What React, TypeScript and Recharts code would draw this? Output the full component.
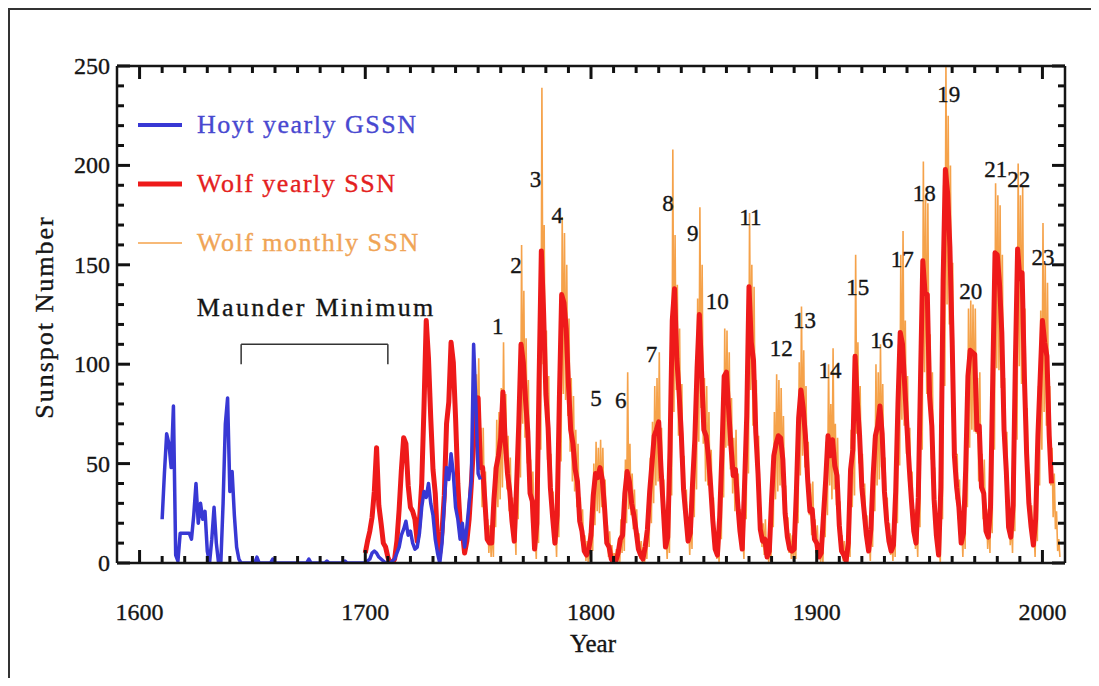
import { LineChart, Line, XAxis, YAxis, ReferenceLine, ReferenceDot, Legend } from 'recharts'

// Hoyt & Schatten group sunspot number, yearly, 1610 onwards
const hoytStart = 1610
const hoytYearly = [
  22, 45, 65, 60, 48, 79, 4, 1, 15, 15,
  15, 15, 15, 12, 24, 40, 20, 30, 22, 26,
  6, 0, 12, 28, 10, 0, 0, 30, 70, 83,
  36, 46, 24, 8, 2, 0, 0, 0, 0, 0,
  0, 0, 3, 0, 0, 0, 0, 0, 0, 2,
  0, 0, 0, 0, 0, 0, 0, 0, 0, 0,
  0, 0, 0, 0, 0, 2, 0, 0, 0, 0,
  0, 0, 0, 1, 0, 0, 0, 0, 0, 0,
  0, 1, 0, 0, 0, 0, 0, 0, 0, 0,
  0, 1, 2, 5, 6, 5, 3, 2, 1, 0,
  0, 0, 1, 2, 5, 8, 14, 17, 21, 14,
  16, 10, 7, 8, 15, 28, 36, 33, 40, 30,
  24, 12, 5, 0, 10, 30, 48, 42, 55, 45,
  28, 22, 12, 20, 8, 18, 30, 42, 110, 80,
  45, 42,
]

// Wolf sunspot number, yearly, 1700 onwards
const wolfStart = 1700
const wolfYearly = [
  5, 11, 16, 23, 36, 58, 29, 20, 10, 8,
  3, 0, 0, 2, 11, 27, 47, 63, 60, 39,
  28, 26, 22, 11, 21, 40, 78, 122, 103, 73,
  47, 35, 11, 5, 16, 34, 70, 81, 111, 101,
  73, 40, 20, 16, 5, 11, 22, 40, 60, 81,
  83, 48, 48, 31, 12, 10, 10, 32, 48, 54,
  63, 86, 61, 45, 36, 21, 11, 38, 70, 110,
  101, 82, 66, 35, 31, 7, 20, 92, 157, 126,
  85, 68, 38, 23, 10, 24, 83, 135, 131, 118,
  90, 67, 60, 47, 41, 21, 16, 6, 4, 7,
  14, 34, 45, 43, 48, 42, 28, 10, 8, 2,
  0, 1, 5, 12, 14, 35, 46, 41, 30, 24,
  16, 7, 4, 2, 8, 17, 36, 50, 64, 67,
  71, 48, 28, 8, 13, 57, 122, 138, 103, 86,
  65, 37, 24, 11, 15, 40, 62, 98, 125, 96,
  67, 64, 54, 39, 21, 7, 4, 23, 55, 94,
  96, 77, 59, 44, 47, 30, 16, 7, 38, 74,
  139, 111, 102, 66, 45, 17, 11, 12, 3, 6,
  32, 54, 60, 64, 63, 52, 25, 13, 7, 6,
  7, 36, 73, 87, 78, 64, 42, 26, 27, 12,
  10, 3, 5, 24, 42, 64, 54, 62, 49, 44,
  19, 6, 4, 1, 10, 47, 57, 104, 81, 64,
  38, 26, 14, 6, 17, 44, 64, 69, 79, 65,
  36, 21, 11, 6, 9, 36, 80, 116, 110, 89,
  68, 48, 31, 16, 10, 33, 93, 152, 136, 135,
  84, 69, 32, 14, 4, 38, 142, 198, 186, 159,
  112, 54, 38, 28, 10, 15, 47, 94, 107, 106,
  105, 67, 69, 38, 35, 16, 13, 28, 93, 156,
  155, 140, 116, 67, 46, 18, 13, 29, 100, 158,
  143, 146, 94, 55, 30, 18, 9, 22, 64, 93,
  122, 111, 104, 64, 40,
]

// Wolf monthly SSN, highest and lowest month of each year, 1749 onwards
const monthlyStart = 1749
const monthlyHigh = [
  95,
  103, 68, 68, 46, 22, 19, 19, 48, 72, 76,
  88, 111, 85, 64, 53, 33, 20, 55, 97, 160,
  137, 113, 92, 52, 46, 15, 32, 126, 239, 170,
  117, 94, 55, 36, 19, 37, 114, 174, 166, 150,
  123, 93, 84, 67, 60, 33, 27, 14, 11, 15,
  24, 50, 61, 58, 62, 58, 42, 19, 16, 9,
  5, 7, 12, 22, 24, 52, 96, 60, 45, 37,
  27, 15, 11, 8, 16, 28, 53, 71, 89, 93,
  106, 68, 42, 16, 23, 80, 208, 165, 140, 118,
  90, 54, 37, 20, 26, 58, 87, 133, 179, 150,
  93, 89, 76, 57, 33, 15, 11, 36, 78, 118,
  117, 106, 83, 63, 67, 45, 27, 15, 55, 102,
  176, 150, 139, 92, 64, 28, 20, 22, 10, 14,
  48, 76, 95, 92, 88, 74, 39, 23, 15, 14,
  15, 53, 101, 129, 107, 89, 61, 40, 41, 22,
  19, 10, 12, 37, 61, 100, 80, 108, 70, 63,
  31, 14, 11, 7, 19, 67, 80, 155, 111, 89,
  55, 40, 24, 14, 28, 63, 100, 96, 110, 90,
  53, 33, 20, 14, 18, 53, 110, 155, 167, 122,
  94, 68, 46, 27, 19, 49, 127, 202, 183, 181,
  115, 96, 48, 24, 11, 55, 190, 251, 225, 200,
  151, 76, 55, 42, 19, 26, 67, 128, 132, 130,
  128, 93, 96, 55, 52, 27, 23, 42, 127, 191,
  185, 180, 155, 93, 66, 29, 23, 44, 136, 201,
  185, 190, 128, 78, 45, 29, 18, 35, 89, 127,
  171, 150, 141, 89, 58, 45, 26, 12,
]
const monthlyLow = [
  58,
  60, 28, 28, 17, 5, 3, 3, 18, 28, 32,
  38, 55, 37, 26, 20, 11, 4, 22, 43, 70,
  63, 50, 40, 20, 17, 2, 10, 57, 100, 79,
  52, 41, 22, 12, 3, 13, 51, 85, 82, 74,
  56, 41, 36, 28, 24, 11, 7, 1, 0, 2,
  6, 19, 26, 25, 28, 24, 15, 3, 2, 0,
  0, 0, 0, 5, 6, 20, 27, 24, 17, 13,
  7, 2, 0, 0, 2, 8, 20, 30, 39, 41,
  43, 28, 15, 2, 5, 34, 76, 87, 64, 53,
  39, 21, 13, 4, 7, 23, 37, 61, 78, 60,
  41, 39, 32, 22, 11, 2, 0, 12, 33, 58,
  59, 47, 35, 26, 28, 17, 7, 2, 22, 45,
  87, 69, 63, 40, 26, 8, 4, 5, 0, 1,
  18, 32, 36, 39, 38, 31, 13, 5, 2, 1,
  2, 20, 44, 54, 48, 39, 24, 14, 15, 5,
  3, 0, 0, 13, 24, 39, 32, 37, 29, 26,
  9, 1, 0, 0, 3, 28, 34, 65, 50, 39,
  22, 14, 6, 1, 8, 26, 39, 42, 48, 39,
  20, 11, 4, 1, 3, 20, 49, 72, 69, 55,
  41, 28, 17, 7, 3, 18, 57, 96, 85, 85,
  52, 42, 18, 6, 0, 22, 89, 130, 120, 100,
  70, 32, 22, 15, 3, 7, 28, 58, 67, 66,
  65, 41, 42, 22, 20, 7, 5, 15, 57, 98,
  97, 88, 72, 41, 27, 9, 5, 16, 62, 99,
  90, 92, 58, 33, 17, 9, 3, 11, 39, 57,
  76, 69, 64, 39, 23, 17, 6, 3,
]

// solar cycle numbers, placed near each maximum
const cycleLabels = [
  { n: '1', year: 1758.7, ssn: 119 },
  { n: '2', year: 1766.8, ssn: 150 },
  { n: '3', year: 1775.4, ssn: 193 },
  { n: '4', year: 1785.1, ssn: 175 },
  { n: '5', year: 1802.2, ssn: 83 },
  { n: '6', year: 1813.2, ssn: 82 },
  { n: '7', year: 1826.8, ssn: 105 },
  { n: '8', year: 1834.1, ssn: 181 },
  { n: '9', year: 1845.1, ssn: 166 },
  { n: '10', year: 1855.9, ssn: 132 },
  { n: '11', year: 1870.6, ssn: 174 },
  { n: '12', year: 1884.3, ssn: 108 },
  { n: '13', year: 1894.6, ssn: 122 },
  { n: '14', year: 1905.9, ssn: 97 },
  { n: '15', year: 1918.2, ssn: 139 },
  { n: '16', year: 1928.8, ssn: 112 },
  { n: '17', year: 1937.9, ssn: 153 },
  { n: '18', year: 1947.6, ssn: 186 },
  { n: '19', year: 1958.5, ssn: 236 },
  { n: '20', year: 1968.2, ssn: 137 },
  { n: '21', year: 1979.3, ssn: 198 },
  { n: '22', year: 1989.5, ssn: 193 },
  { n: '23', year: 2000.2, ssn: 154 },
]

const maunderStart = 1645
const maunderEnd = 1710

const X_MIN = 1590
const X_MAX = 2010
const Y_MIN = 0
const Y_MAX = 250
const yearTicks = Array.from({ length: 41 }, (_, i) => 1600 + i * 10)
const ssnTicks = Array.from({ length: 26 }, (_, i) => i * 10)

const hoytData = hoytYearly.map((v, i) => ({ year: hoytStart + i, v }))
const wolfData = wolfYearly.map((v, i) => ({ year: wolfStart + i, v }))
const monthlyData = monthlyHigh.flatMap((hi, i) => [
  { year: monthlyStart + i + 0.25, v: hi },
  { year: monthlyStart + i + 0.75, v: monthlyLow[i] },
])

const W = 1083
const H = 670
// plot box: x 109..1057, y 58..555 inside the chart
const margin = { top: 57, right: 25, bottom: 114, left: 108 }
const plotW = 948
const plotH = 497
const FONT = '"Liberation Serif", "Times New Roman", serif'
const INK = '#151515'
const BLUE = '#3838d4'
const RED = '#ee1a1a'
const ORANGE = '#f5a24a'

// inward tick lengths in px, turned into data units
const MAJOR = 13
const MINOR = 7
const yearsPerPx = (X_MAX - X_MIN) / plotW
const ssnPerPx = (Y_MAX - Y_MIN) / plotH

// one flat list of tick segments, drawn as ReferenceLines
type Seg = { id: string; a: { x: number; y: number }; b: { x: number; y: number } }
const tickSegments: Seg[] = []
yearTicks.forEach((t) => {
  const len = (t % 100 === 0 ? MAJOR : MINOR) * ssnPerPx
  tickSegments.push({ id: `b${t}`, a: { x: t, y: Y_MIN }, b: { x: t, y: Y_MIN + len } })
  tickSegments.push({ id: `t${t}`, a: { x: t, y: Y_MAX }, b: { x: t, y: Y_MAX - len } })
})
ssnTicks.forEach((t) => {
  const len = (t % 50 === 0 ? MAJOR : MINOR) * yearsPerPx
  tickSegments.push({ id: `l${t}`, a: { x: X_MIN, y: t }, b: { x: X_MIN + len, y: t } })
  tickSegments.push({ id: `r${t}`, a: { x: X_MAX, y: t }, b: { x: X_MAX - len, y: t } })
})

const legendItems = [
  { name: 'Hoyt yearly GSSN', color: BLUE, text: '#4848d0', width: 4 },
  { name: 'Wolf yearly SSN', color: RED, text: '#e42020', width: 5 },
  { name: 'Wolf monthly SSN', color: ORANGE, text: '#f0a456', width: 1.5 },
]

// slightly heavier serif, closer to the original plot font
const inkText = { fontFamily: FONT, fill: INK, stroke: INK, strokeWidth: 0.35 }

function BottomLabel({ x, y, payload }: any) {
  if (payload.value % 100 !== 0) return <g />
  return (
    <text x={x} y={y + 57} textAnchor="middle" fontSize={24} {...inkText}>
      {payload.value}
    </text>
  )
}

function LeftLabel({ x, y, payload }: any) {
  if (payload.value % 50 !== 0) return <g />
  return (
    <text x={x - 7} y={y + 8} textAnchor="end" fontSize={24} {...inkText}>
      {payload.value}
    </text>
  )
}

function LegendBox() {
  return (
    <svg width={330} height={170}>
      {legendItems.map((it, i) => {
        const cy = 22 + i * 59
        return (
          <g key={it.name}>
            <line x1={5} x2={49} y1={cy} y2={cy} stroke={it.color} strokeWidth={it.width} />
            <text
              x={64}
              y={cy + 8}
              fontFamily={FONT}
              fontSize={26}
              letterSpacing={1.5}
              fill={it.text}
              stroke={it.text}
              strokeWidth={0.35}
            >
              {it.name}
            </text>
          </g>
        )
      })}
    </svg>
  )
}

const axisLine = { stroke: INK, strokeWidth: 2.5 }

export default function App() {
  return (
    <div style={{ position: 'relative', width: W, height: H }}>
      <div
        style={{
          position: 'absolute',
          left: 0,
          top: 0,
          width: 1089,
          height: H,
          borderTop: '2px solid #333',
          borderLeft: '2px solid #333',
          boxSizing: 'border-box',
          pointerEvents: 'none',
        }}
      />
      <LineChart width={W} height={H} margin={margin}>
        <XAxis
          type="number"
          dataKey="year"
          domain={[X_MIN, X_MAX]}
          allowDataOverflow
          ticks={yearTicks}
          interval={0}
          height={1}
          tickSize={0}
          tickMargin={0}
          tickLine={false}
          axisLine={axisLine}
          tick={<BottomLabel />}
        />
        <XAxis
          xAxisId="top"
          orientation="top"
          type="number"
          dataKey="year"
          domain={[X_MIN, X_MAX]}
          allowDataOverflow
          ticks={yearTicks}
          height={1}
          tickLine={false}
          axisLine={axisLine}
          tick={false}
        />
        <YAxis
          type="number"
          domain={[Y_MIN, Y_MAX]}
          allowDataOverflow
          ticks={ssnTicks}
          interval={0}
          width={1}
          tickSize={0}
          tickMargin={0}
          tickLine={false}
          axisLine={axisLine}
          tick={<LeftLabel />}
        />
        <YAxis
          yAxisId="right"
          orientation="right"
          type="number"
          domain={[Y_MIN, Y_MAX]}
          allowDataOverflow
          ticks={ssnTicks}
          width={1}
          tickLine={false}
          axisLine={axisLine}
          tick={false}
        />
        <Legend
          layout="vertical"
          align="center"
          verticalAlign="middle"
          wrapperStyle={{ left: 125, top: 95, width: 330, height: 170 }}
          content={() => <LegendBox />}
        />
        <Line
          data={monthlyData}
          dataKey="v"
          name="Wolf monthly SSN"
          type="linear"
          stroke={ORANGE}
          strokeWidth={1.6}
          dot={false}
          isAnimationActive={false}
        />
        <Line
          data={wolfData}
          dataKey="v"
          name="Wolf yearly SSN"
          type="linear"
          stroke={RED}
          strokeWidth={5}
          strokeLinejoin="round"
          dot={false}
          isAnimationActive={false}
        />
        <Line
          data={hoytData}
          dataKey="v"
          name="Hoyt yearly GSSN"
          type="linear"
          stroke={BLUE}
          strokeWidth={3.5}
          strokeLinejoin="round"
          dot={false}
          isAnimationActive={false}
        />

        {/* inward ticks on all four sides of the box */}
        {tickSegments.map((s) => (
          <ReferenceLine key={s.id} segment={[s.a, s.b]} stroke="#111111" strokeWidth={3} />
        ))}

        <ReferenceLine segment={[{ x: maunderStart, y: 110 }, { x: maunderEnd, y: 110 }]} stroke="#333" strokeWidth={1.5} />
        <ReferenceLine segment={[{ x: maunderStart, y: 110 }, { x: maunderStart, y: 100 }]} stroke="#333" strokeWidth={1.5} />
        <ReferenceLine segment={[{ x: maunderEnd, y: 110 }, { x: maunderEnd, y: 100 }]} stroke="#333" strokeWidth={1.5} />
        <ReferenceDot
          x={1678.2}
          y={128.5}
          r={0}
          shape={(p: any) => (
            <text x={p.cx} y={p.cy + 8} textAnchor="middle" fontSize={26} letterSpacing={2.3} {...inkText}>
              Maunder Minimum
            </text>
          )}
        />
        {cycleLabels.map((c) => (
          <ReferenceDot
            key={c.n}
            x={c.year}
            y={c.ssn}
            r={0}
            shape={(p: any) => (
              <text x={p.cx} y={p.cy + 8} textAnchor="middle" fontSize={23} {...inkText}>
                {c.n}
              </text>
            )}
          />
        ))}
      </LineChart>
      <svg width={W} height={H} style={{ position: 'absolute', left: 0, top: 0, pointerEvents: 'none' }}>
        <text transform="translate(45,309) rotate(-90)" textAnchor="middle" fontSize={26} letterSpacing={2} {...inkText}>
          Sunspot Number
        </text>
        <text x={585} y={644} textAnchor="middle" fontSize={25} {...inkText}>
          Year
        </text>
      </svg>
    </div>
  )
}
